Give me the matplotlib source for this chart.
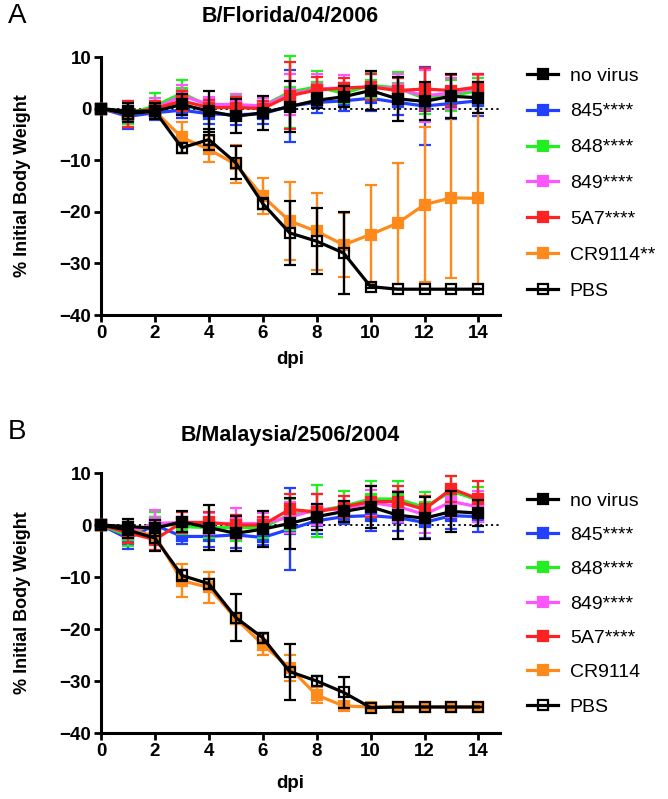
import matplotlib
matplotlib.use("Agg")
import matplotlib.pyplot as plt
from matplotlib.lines import Line2D

plt.rcParams['font.family'] = ['Liberation Sans', 'DejaVu Sans']

days = list(range(15))
series_names = ["no virus", "845", "848", "849", "5A7", "CR9114", "PBS"]
colors = {"no virus": "#000000", "845": "#2141FF", "848": "#22EE22",
          "849": "#FF55FF", "5A7": "#FF2222", "CR9114": "#FF8A1C", "PBS": "#000000"}

# Panel A: B/Florida/04/2006
A_title = "B/Florida/04/2006"
A_labels = ["no virus", "845****", "848****", "849****", "5A7****", "CR9114**", "PBS"]
A_novirus = [0, -0.5, -0.5, 0.8, -0.5, -1.5, -0.8, 0.4, 1.6, 2.3, 3.5, 1.9, 1.4, 2.4, 2.1]
A_novirus_sd = [0.5, 1.5, 1.5, 2.0, 4.0, 3.3, 3.3, 5.0, 1.5, 2.0, 3.8, 4.3, 3.7, 4.3, 3.0]
A_845 = [0, -1.5, -0.8, -0.3, -1.0, -1.2, -1.0, 0.5, 1.2, 1.5, 2.0, 1.2, 0.5, 1.0, 1.5]
A_845_sd = [0.8, 2.5, 1.5, 1.5, 2.0, 2.0, 2.0, 7.0, 2.0, 2.0, 2.5, 2.5, 7.5, 3.0, 3.0]
A_848 = [0, -1.0, 0.5, 3.0, 0.5, 0.5, 0.5, 3.2, 4.2, 3.0, 4.5, 4.0, 2.0, 2.5, 3.5]
A_848_sd = [0.5, 2.0, 2.5, 2.5, 1.5, 2.0, 1.5, 7.0, 3.0, 2.0, 2.5, 3.0, 3.0, 3.0, 2.5]
A_849 = [0, -1.0, 0.0, 2.5, 0.8, 0.8, 0.5, 2.8, 3.8, 4.0, 4.2, 3.8, 2.5, 3.0, 4.0]
A_849_sd = [0.5, 2.5, 2.0, 2.0, 1.5, 2.0, 1.5, 4.0, 3.0, 2.5, 2.5, 3.0, 5.0, 3.0, 2.5]
A_5A7 = [0, -1.0, 0.0, 1.5, 0.2, 0.2, 0.0, 2.5, 3.6, 4.0, 4.2, 3.5, 3.8, 3.5, 4.2]
A_5A7_sd = [0.5, 2.5, 1.5, 2.0, 1.5, 2.0, 1.5, 6.5, 2.5, 2.0, 2.5, 2.5, 4.0, 3.0, 2.5]
A_CR9114 = [0, -1.0, -0.5, -5.6, -7.9, -10.8, -17.0, -21.8, -23.8, -26.4, -24.4, -22.2, -18.6, -17.3, -17.4]
A_CR9114_sd = [0.5, 1.0, 1.0, 3.0, 2.5, 3.7, 3.5, 7.5, 7.5, 6.2, 9.5, 11.7, 15.0, 15.5, 16.5]
A_PBS = [0, -1.0, -0.5, -7.6, -6.0, -10.5, -18.4, -24.1, -25.7, -28.0, -34.5, -35, -35, -35, -35]
A_PBS_sd = [0.3, 1.5, 1.0, 1.0, 2.0, 3.2, 1.0, 6.2, 6.4, 8.0, 0.3, 0, 0, 0, 0]

# Panel B: B/Malaysia/2506/2004
B_title = "B/Malaysia/2506/2004"
B_labels = ["no virus", "845****", "848****", "849****", "5A7****", "CR9114", "PBS"]
B_novirus = [0, -0.3, -0.6, 0.6, -0.5, -1.6, -0.8, 0.3, 1.6, 2.6, 3.5, 1.9, 1.3, 2.6, 2.3]
B_novirus_sd = [0.5, 1.5, 1.5, 2.0, 4.3, 3.4, 3.4, 4.9, 2.5, 2.0, 4.0, 4.5, 4.0, 4.0, 2.5]
B_845 = [0, -2.6, 0.0, -2.2, -2.2, -1.9, -2.4, -0.8, 0.8, 1.6, 1.8, 1.4, 0.5, 1.8, 1.6]
B_845_sd = [0.5, 2.0, 1.5, 1.5, 2.0, 2.5, 1.5, 7.9, 2.5, 1.5, 3.0, 2.5, 3.0, 2.5, 3.0]
B_848 = [0, -2.0, 0.5, -0.3, -0.5, -0.5, -0.5, 2.0, 2.7, 3.6, 5.0, 5.0, 3.4, 6.5, 4.8]
B_848_sd = [0.5, 2.0, 2.0, 1.5, 2.0, 2.5, 2.0, 3.0, 5.0, 3.0, 3.5, 3.5, 3.0, 3.0, 2.5]
B_849 = [0, -1.5, 0.3, 0.5, 0.3, 0.3, 0.3, 1.5, 3.0, 3.0, 4.3, 3.6, 2.0, 4.5, 3.5]
B_849_sd = [0.5, 2.0, 2.5, 2.0, 2.0, 3.0, 2.0, 3.0, 3.0, 2.5, 2.5, 3.0, 3.5, 3.0, 3.0]
B_5A7 = [0, -1.5, -2.8, 0.5, 0.5, 0.0, 0.0, 3.0, 2.5, 3.5, 4.5, 4.5, 3.0, 7.0, 5.0]
B_5A7_sd = [0.5, 2.0, 2.0, 2.0, 2.0, 2.0, 1.5, 3.0, 3.5, 2.0, 3.0, 3.0, 2.5, 2.5, 3.5]
B_CR9114 = [0, -1.0, -2.0, -10.7, -12.0, -18.0, -23.0, -27.5, -32.7, -34.8, -35, -35, -35, -35, -35]
B_CR9114_sd = [0.5, 1.0, 1.0, 3.2, 3.0, 1.0, 2.0, 2.5, 1.6, 0.5, 0, 0, 0, 0, 0]
B_PBS = [0, -1.0, -2.5, -9.7, -11.3, -17.8, -21.7, -28.2, -30.0, -32.2, -35.1, -35, -35, -35, -35]
B_PBS_sd = [0.3, 1.5, 2.5, 1.0, 1.0, 4.5, 1.0, 5.4, 1.0, 3.0, 0, 0, 0, 0, 0]

x_ticks = [0, 2, 4, 6, 8, 10, 12, 14]
y_ticks = [-40, -30, -20, -10, 0, 10]

panels = [
    dict(title=A_title, labels=A_labels, letter="A",
         data={"no virus": (A_novirus, A_novirus_sd), "845": (A_845, A_845_sd),
               "848": (A_848, A_848_sd), "849": (A_849, A_849_sd), "5A7": (A_5A7, A_5A7_sd),
               "CR9114": (A_CR9114, A_CR9114_sd), "PBS": (A_PBS, A_PBS_sd)},
         rect=[101/668, 1-315/799, 399/668, 258/799], title_y=1-16/799,
         letter_y=1-16/799, xlabel_y=1-360/799, leg_top=1-67/799, spacing=0.94),
    dict(title=B_title, labels=B_labels, letter="B",
         data={"no virus": (B_novirus, B_novirus_sd), "845": (B_845, B_845_sd),
               "848": (B_848, B_848_sd), "849": (B_849, B_849_sd), "5A7": (B_5A7, B_5A7_sd),
               "CR9114": (B_CR9114, B_CR9114_sd), "PBS": (B_PBS, B_PBS_sd)},
         rect=[101/668, 1-733/799, 399/668, 260/799], title_y=1-435/799,
         letter_y=1-432/799, xlabel_y=1-783/799, leg_top=1-492/799, spacing=0.86),
]

fig = plt.figure(figsize=(6.68, 7.99), dpi=100)

draw_order = ["845", "848", "849", "5A7", "CR9114", "no virus", "PBS"]

for p in panels:
    ax = fig.add_axes(p["rect"])
    ax.axhline(0, color="black", lw=1.3, ls=(0, (1.2, 1.8)), zorder=1)
    for z, name in enumerate(draw_order):
        y, sd = p["data"][name]
        mfc = "none" if name == "PBS" else colors[name]
        ax.errorbar(days, y, yerr=sd, color=colors[name], marker="s", ms=7.5,
                    mfc=mfc, mec=colors[name], mew=1.6, lw=2.3,
                    elinewidth=1.7, capsize=4.5, capthick=1.7, zorder=3 + z,
                    clip_on=False)
    ax.set_xlim(0, 14.8)
    ax.set_ylim(-40, 10)
    ax.set_xticks(x_ticks)
    ax.set_yticks(y_ticks)
    for s in ["top", "right"]:
        ax.spines[s].set_visible(False)
    for s in ["left", "bottom"]:
        ax.spines[s].set_linewidth(2.2)
    ax.tick_params(direction="out", length=5, width=2.0, labelsize=13.5, pad=2)
    for lab in ax.get_xticklabels() + ax.get_yticklabels():
        lab.set_fontweight("bold")
    ax.set_ylabel("% Initial Body Weight", fontsize=13, fontweight="bold")
    ax.yaxis.set_label_coords(-0.175, 0.5)
    fig.text(290/668, p["xlabel_y"], "dpi", ha="center", va="center",
             fontsize=13.5, fontweight="bold")
    fig.text(290/668, p["title_y"], p["title"], ha="center", va="center",
             fontsize=15.5, fontweight="bold")
    fig.text(8/668, p["letter_y"], p["letter"], ha="left", va="center",
             fontsize=20)

    handles = []
    for name in series_names:
        mfc = "none" if name == "PBS" else colors[name]
        handles.append(Line2D([], [], color=colors[name], marker="s", ms=7.5,
                              mfc=mfc, mec=colors[name], mew=1.6, lw=2.3))
    fig.legend(handles, p["labels"], loc="upper left",
               bbox_to_anchor=(527/668, p["leg_top"]), bbox_transform=fig.transFigure,
               frameon=False, fontsize=14, handlelength=1.6, handletextpad=0.6,
               labelspacing=p["spacing"], borderpad=0, borderaxespad=0)

fig.savefig("out.png", dpi=100)
